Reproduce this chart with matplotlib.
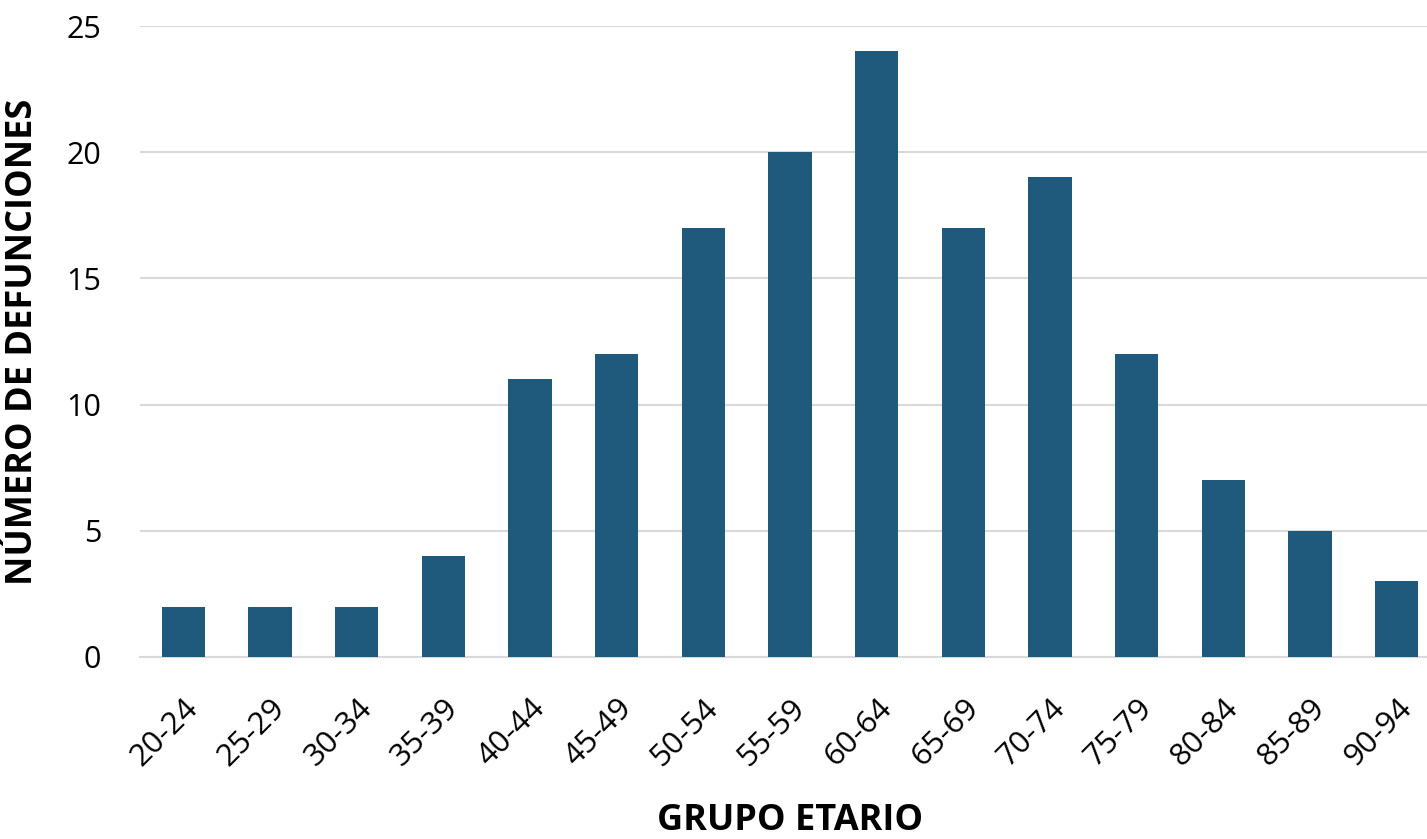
import matplotlib.pyplot as plt
import numpy as np

# data
grupos = ['20-24', '25-29', '30-34', '35-39', '40-44', '45-49', '50-54', '55-59',
          '60-64', '65-69', '70-74', '75-79', '80-84', '85-89', '90-94']
defunciones = [2, 2, 2, 4, 11, 12, 17, 20, 24, 17, 19, 12, 7, 5, 3]

plt.rcParams['font.family'] = ['Open Sans', 'DejaVu Sans']

fig = plt.figure(figsize=(14.27, 8.39), dpi=100)
# axes run a bit past the right edge, like the cropped original
ax = fig.add_axes([140 / 1427, (839 - 657) / 839, 1300 / 1427, (657 - 26) / 839])

x = np.arange(len(grupos))
ax.bar(x, defunciones, width=0.5, color='#1f5a7c', zorder=3)

ax.set_xlim(-0.5, len(grupos) - 0.5)
ax.set_ylim(0, 25)
ax.set_yticks([0, 5, 10, 15, 20, 25])
ax.yaxis.grid(True, color='#d9d9d9', linewidth=1.5, zorder=0)
for s in ['top', 'right', 'left']:
    ax.spines[s].set_visible(False)
ax.spines['bottom'].set_color('#d9d9d9')
ax.spines['bottom'].set_linewidth(1.5)

ax.set_xticks(x)
ax.set_xticklabels(grupos, rotation=45, ha='right', rotation_mode='anchor')
ax.tick_params(axis='x', length=0, pad=26, labelsize=22.5)
ax.tick_params(axis='y', length=0, pad=28, labelsize=22)

ax.set_xlabel('GRUPO ETARIO', fontsize=26, fontweight='bold', labelpad=22)
ax.set_ylabel('NÚMERO DE DEFUNCIONES', fontsize=26, fontweight='bold', labelpad=18)

fig.savefig('out.png', dpi=100)
